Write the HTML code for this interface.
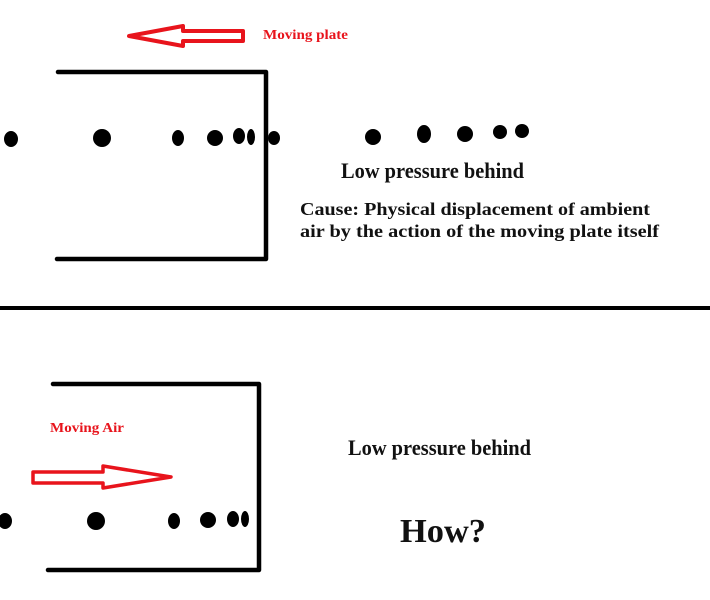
<!DOCTYPE html>
<html><head><style>html,body{margin:0;padding:0;background:#fff;}svg{display:block}</style></head>
<body>
<svg width="710" height="600" viewBox="0 0 710 600" xmlns="http://www.w3.org/2000/svg">
<rect width="710" height="600" fill="#fff"/>
<!-- top arrow -->
<polygon points="129,36 183,26 183,31 243,31 243,41 183,41 183,46" fill="#fff" stroke="#e8141c" stroke-width="4" stroke-linejoin="round"/>
<text x="263" y="39" font-family="Liberation Serif" font-weight="bold" font-size="14" textLength="85" lengthAdjust="spacingAndGlyphs" fill="#e8141c">Moving plate</text>
<!-- top box -->
<path d="M58,72 H266 V259 H57" fill="none" stroke="#000" stroke-width="4.5" stroke-linecap="round" stroke-linejoin="round"/>
<g fill="#000">
<ellipse cx="11" cy="139" rx="7" ry="8"/>
<circle cx="102" cy="138" r="9"/>
<ellipse cx="178" cy="138" rx="6" ry="8"/>
<circle cx="215" cy="138" r="8"/>
<ellipse cx="239" cy="136" rx="6" ry="8"/>
<ellipse cx="251" cy="137" rx="4" ry="8"/>
<ellipse cx="274" cy="138" rx="6" ry="7"/>
<circle cx="373" cy="137" r="8"/>
<ellipse cx="424" cy="134" rx="7" ry="9"/>
<circle cx="465" cy="134" r="8"/>
<circle cx="500" cy="132" r="7"/>
<circle cx="522" cy="131" r="7"/>
</g>
<text x="341" y="178" font-family="Liberation Serif" font-weight="bold" font-size="22" textLength="183" lengthAdjust="spacingAndGlyphs" fill="#111">Low pressure behind</text>
<text x="300" y="215" font-family="Liberation Serif" font-weight="bold" font-size="18" textLength="350" lengthAdjust="spacingAndGlyphs" fill="#111">Cause: Physical displacement of ambient</text>
<text x="300" y="237" font-family="Liberation Serif" font-weight="bold" font-size="18" textLength="359" lengthAdjust="spacingAndGlyphs" fill="#111">air by the action of the moving plate itself</text>
<!-- divider -->
<rect x="0" y="306" width="710" height="4" fill="#000"/>
<!-- bottom box -->
<path d="M53,384 H259 V570 H48" fill="none" stroke="#000" stroke-width="4.5" stroke-linecap="round" stroke-linejoin="round"/>
<text x="50" y="432" font-family="Liberation Serif" font-weight="bold" font-size="14" textLength="74" lengthAdjust="spacingAndGlyphs" fill="#e8141c">Moving Air</text>
<polygon points="33,472 103,472 103,466 171,477 103,488 103,483 33,483" fill="#fff" stroke="#e8141c" stroke-width="3.5" stroke-linejoin="round"/>
<g fill="#000">
<ellipse cx="5" cy="521" rx="7" ry="8"/>
<circle cx="96" cy="521" r="9"/>
<ellipse cx="174" cy="521" rx="6" ry="8"/>
<circle cx="208" cy="520" r="8"/>
<ellipse cx="233" cy="519" rx="6" ry="8"/>
<ellipse cx="245" cy="519" rx="4" ry="8"/>
</g>
<text x="348" y="455" font-family="Liberation Serif" font-weight="bold" font-size="22" textLength="183" lengthAdjust="spacingAndGlyphs" fill="#111">Low pressure behind</text>
<text x="400" y="542" font-family="Liberation Serif" font-weight="bold" font-size="34" textLength="86" lengthAdjust="spacingAndGlyphs" fill="#111">How?</text>
</svg>
</body></html>
